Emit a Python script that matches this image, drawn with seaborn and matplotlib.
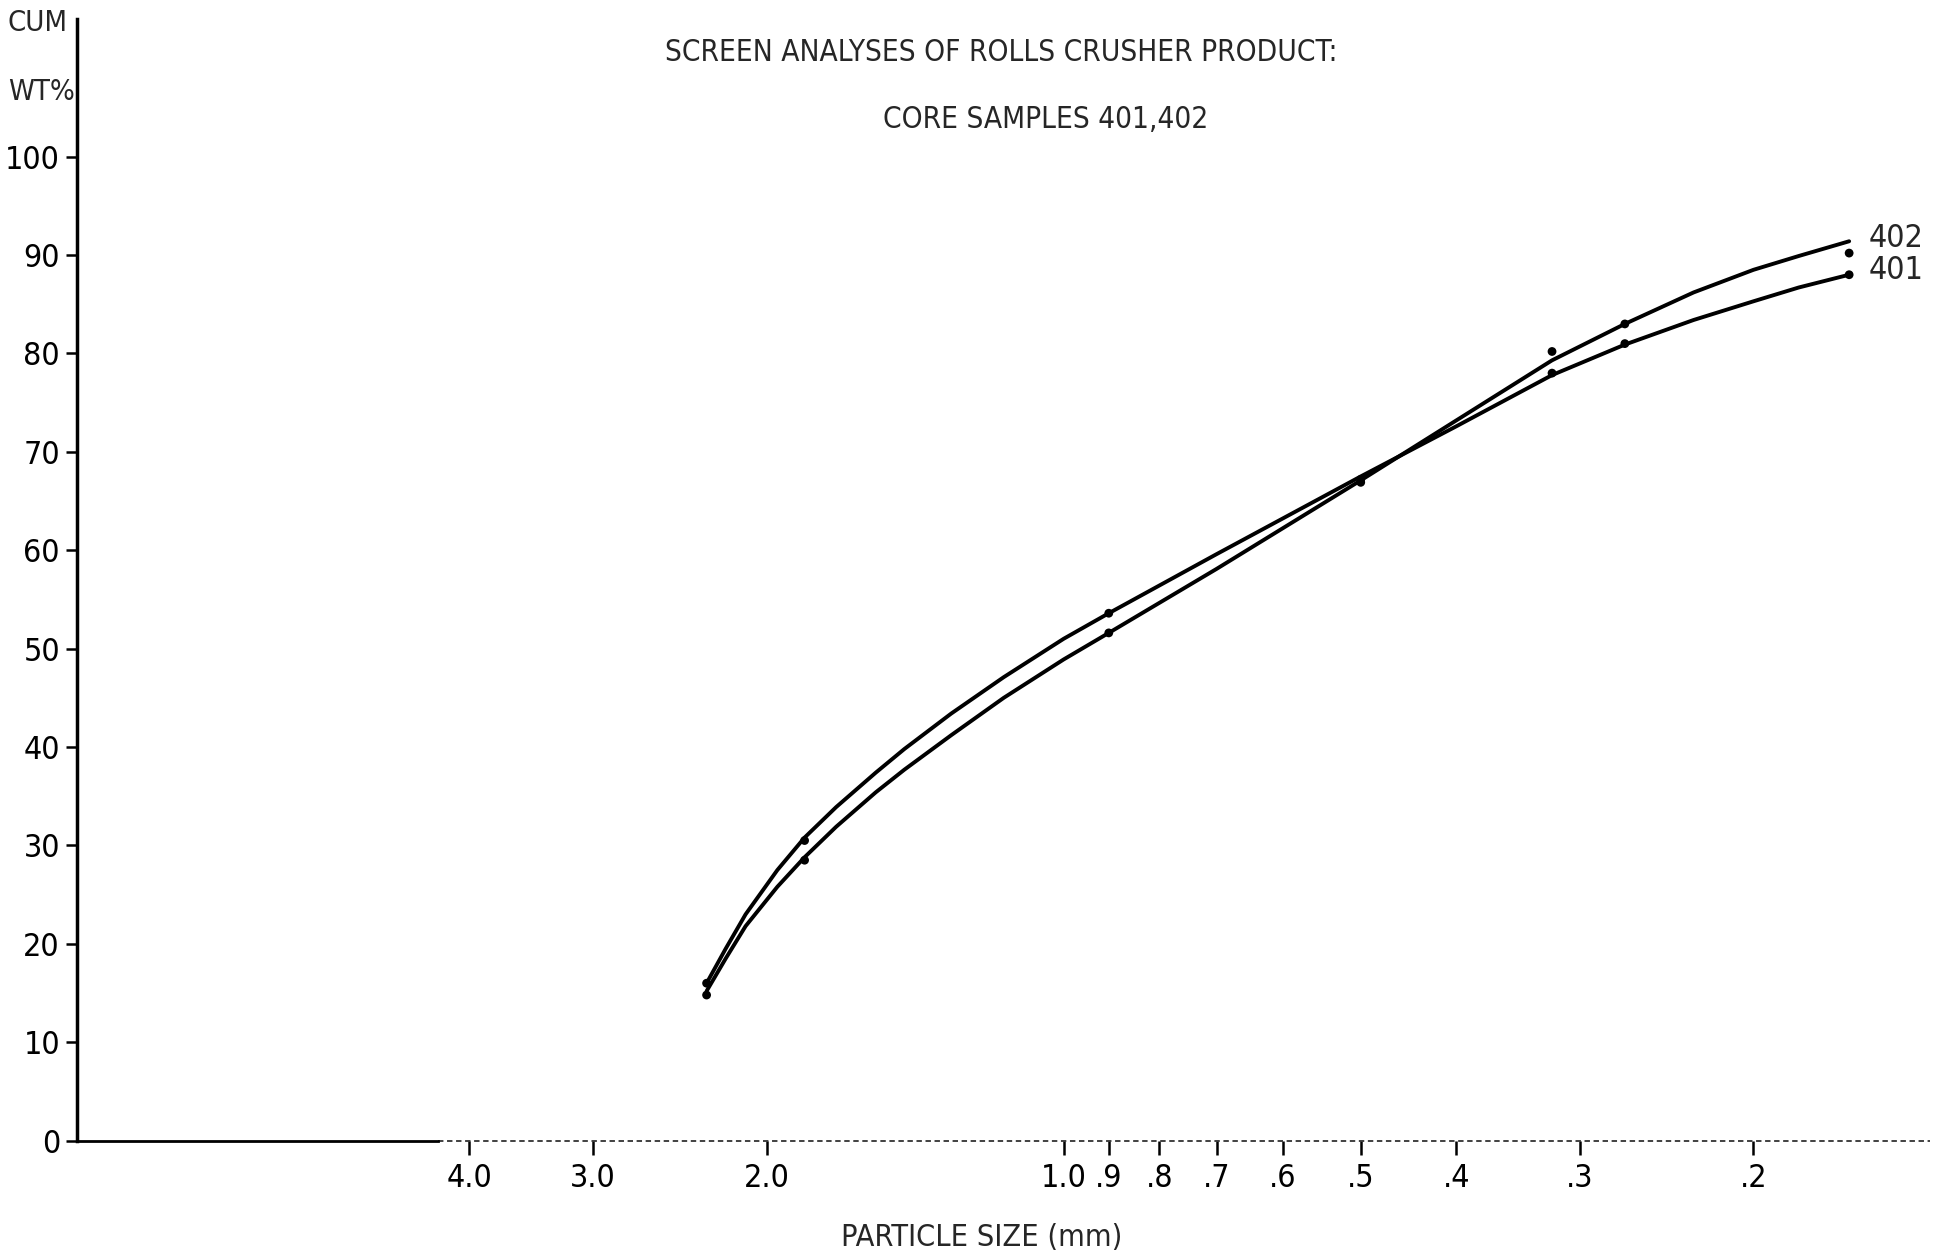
import matplotlib
matplotlib.use("Agg")
import matplotlib.pyplot as plt
import seaborn as sns
import pandas as pd

# measured screen points (particle size mm, cumulative wt%)
sizes_pts = [2.30, 1.83, 0.90, 0.50, 0.32, 0.27, 0.16]
wt_401 = [16.0, 30.5, 53.6, 67.2, 78.0, 81.0, 88.0]
wt_402 = [14.8, 28.5, 51.6, 66.9, 80.2, 83.0, 90.2]

# hand-drawn curves
curve_sizes = [2.30, 2.20, 2.10, 1.95, 1.83, 1.70, 1.55, 1.45, 1.30, 1.15, 1.00,
               0.90, 0.70, 0.50, 0.40, 0.32, 0.27, 0.23, 0.20, 0.18, 0.16]
curve_401 = [16.0, 19.5, 23.0, 27.5, 30.8, 33.9, 37.4, 39.8, 43.4, 47.1, 51.0,
             53.6, 59.6, 67.5, 72.6, 77.8, 80.9, 83.4, 85.3, 86.7, 88.0]
curve_402 = [15.2, 18.5, 21.8, 25.8, 28.8, 31.9, 35.4, 37.7, 41.2, 45.0, 48.9,
             51.6, 58.1, 67.1, 73.2, 79.3, 83.0, 86.2, 88.5, 89.9, 91.4]

x_ticks = [4.0, 3.0, 2.0, 1.0, 0.9, 0.8, 0.7, 0.6, 0.5, 0.4, 0.3, 0.2]
x_labels = ["4.0", "3.0", "2.0", "1.0", ".9", ".8", ".7", ".6", ".5", ".4", ".3", ".2"]
y_ticks = list(range(0, 101, 10))

sns.set_theme(style="white")
plt.rcParams["font.family"] = ["DejaVu Sans"]
plt.rcParams["font.stretch"] = "condensed"

curves = pd.DataFrame({
    "size": curve_sizes * 2,
    "wt": curve_401 + curve_402,
    "sample": ["401"] * len(curve_sizes) + ["402"] * len(curve_sizes),
})
points = pd.DataFrame({
    "size": sizes_pts * 2,
    "wt": wt_401 + wt_402,
    "sample": ["401"] * len(sizes_pts) + ["402"] * len(sizes_pts),
})

fig = plt.figure(figsize=(19.4, 12.59), dpi=100)
ax = fig.add_axes([0.0395, 0.094, 0.9555, 0.891])

sns.lineplot(data=curves, x="size", y="wt", units="sample", estimator=None,
             sort=False, color="black", lw=2.8, ax=ax, legend=False)
sns.scatterplot(data=points, x="size", y="wt", color="black", s=40,
                edgecolor="none", ax=ax, legend=False)

ax.set_xscale("log")
ax.set_xlim(10.0, 0.1324)
ax.set_ylim(0, 114)
ax.minorticks_off()
ax.set_xticks(x_ticks)
ax.set_xticklabels(x_labels)
ax.set_yticks(y_ticks)
ax.set_yticklabels([str(v) for v in y_ticks])
ax.tick_params(axis="both", direction="out", length=8, width=1.8,
               colors="black", labelsize=23, bottom=True, left=True)
ax.tick_params(axis="x", pad=6, length=10)
ax.tick_params(axis="y", pad=4)
ax.set_xlabel("")
ax.set_ylabel("")

for side in ["top", "right"]:
    ax.spines[side].set_visible(False)
ax.spines["left"].set_linewidth(2.5)
ax.spines["left"].set_color("black")
ax.spines["bottom"].set_color("black")
ax.spines["bottom"].set_linewidth(2.0)
ax.spines["bottom"].set_bounds(4.3, 10.0)
ax.plot([4.3, 0.1324], [0, 0], ls=(0, (3, 2)), color="0.2", lw=1.3, clip_on=False)

# curve labels at the right ends
ax.text(0.153, 91.7, "402", fontsize=23, ha="left", va="center")
ax.text(0.153, 88.4, "401", fontsize=23, ha="left", va="center")

fig.text(0.516, 0.958, "SCREEN ANALYSES OF ROLLS CRUSHER PRODUCT:", fontsize=21.3,
         ha="center", va="center")
fig.text(0.539, 0.905, "CORE SAMPLES 401,402", fontsize=21.3, ha="center", va="center")
fig.text(0.506, 0.017, "PARTICLE SIZE (mm)", fontsize=22, ha="center", va="center")
fig.text(0.004, 0.982, "CUM", fontsize=21, ha="left", va="center")
fig.text(0.004, 0.927, "WT%", fontsize=21, ha="left", va="center")

fig.savefig("out.png", dpi=100, facecolor="white")
